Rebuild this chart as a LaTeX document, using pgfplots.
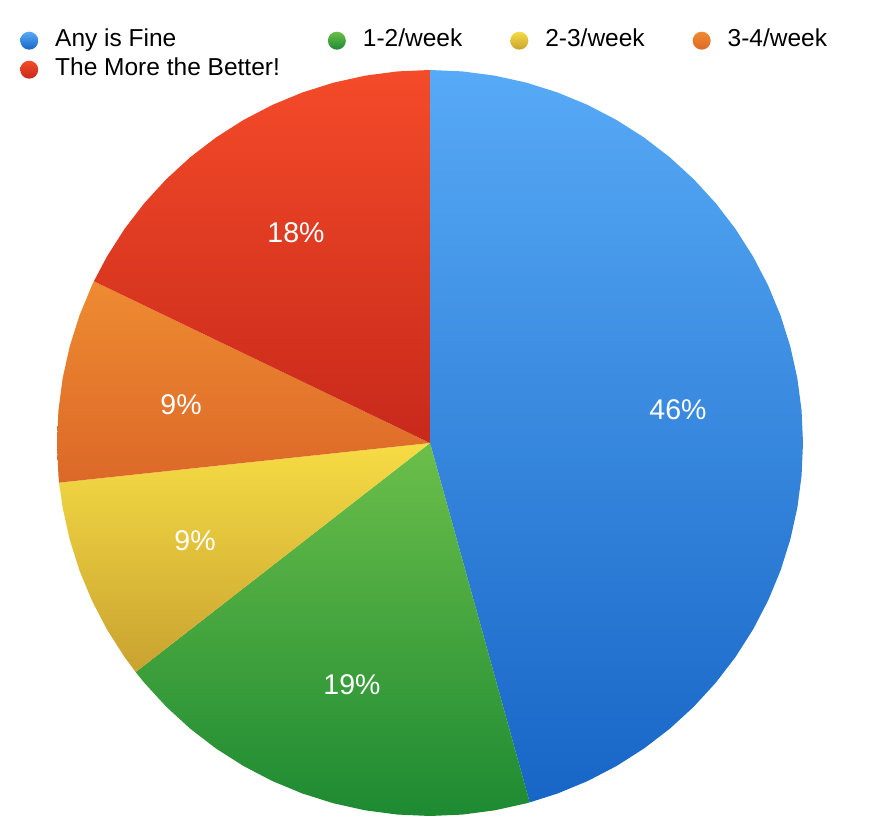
\documentclass[border=0pt]{standalone}
\usepackage{pgfplots}
\pgfplotsset{compat=1.18}
\usepackage{fontspec}
\setmainfont{Liberation Sans}
\definecolor{bT}{HTML}{57AAF6}
\definecolor{bB}{HTML}{1765C6}
\definecolor{gT}{HTML}{6CBF4A}
\definecolor{gB}{HTML}{1D8A32}
\definecolor{yT}{HTML}{F6DC44}
\definecolor{yB}{HTML}{C9A230}
\definecolor{oT}{HTML}{EE8B32}
\definecolor{oB}{HTML}{DC6828}
\definecolor{rT}{HTML}{F44B29}
\definecolor{rB}{HTML}{C8291B}
\tikzset{wt/.style={font=\fontsize{28.5}{30}\selectfont, inner sep=0pt, text=white}}
\begin{document}
\begin{tikzpicture}
\begin{axis}[
  x=1pt, y=1pt,
  xmin=-430, xmax=458, ymin=-375, ymax=443,
  hide axis, clip=false,
  legend columns=4,
  legend cell align=left,
  legend style={draw=none, fill=none, inner sep=0pt,
    at={(axis cs:-410,417)}, anchor=north west,
    font=\fontsize{24.5}{28}\selectfont,
    nodes={inner xsep=0pt, inner ysep=3pt, text height=17pt, text depth=6pt},
    /tikz/every odd column/.append style={column sep=17pt},
    /tikz/every even column/.append style={column sep=48pt}},
]
\path[draw=none] (rel axis cs:0,0) rectangle (rel axis cs:1,1);
% Any is Fine
\addplot[data cs=polar, draw=none, top color=bT, bottom color=bB, forget plot] coordinates {
(0,0) (90,373) (85,373) (80,373) (75,373) (70,373) (65,373) (60,373) (55,373) (50,373)
(45,373) (40,373) (35,373) (30,373) (25,373) (20,373) (15,373) (10,373) (5,373) (0,373)
(-5,373) (-10,373) (-15,373) (-20,373) (-25,373) (-30,373) (-35,373) (-40,373) (-45,373)
(-50,373) (-55,373) (-60,373) (-65,373) (-70,373) (-74.5,373)};
% 1-2/week
\addplot[data cs=polar, draw=none, top color=gT, bottom color=gB, forget plot] coordinates {
(0,0) (-74.5,373) (-75,373) (-80,373) (-85,373) (-90,373) (-95,373) (-100,373) (-105,373)
(-110,373) (-115,373) (-120,373) (-125,373) (-130,373) (-135,373) (-140,373) (-142.1,373)};
% 2-3/week
\addplot[data cs=polar, draw=none, top color=yT, bottom color=yB, forget plot] coordinates {
(0,0) (-142.1,373) (-145,373) (-150,373) (-155,373) (-160,373) (-165,373) (-170,373) (-173.9,373)};
% 3-4/week
\addplot[data cs=polar, draw=none, top color=oT, bottom color=oB, forget plot] coordinates {
(0,0) (-173.9,373) (-175,373) (-180,373) (-185,373) (-190,373) (-195,373) (-200,373) (-205,373) (-205.7,373)};
% The More the Better!
\addplot[data cs=polar, draw=none, top color=rT, bottom color=rB, forget plot] coordinates {
(0,0) (-205.7,373) (-210,373) (-215,373) (-220,373) (-225,373) (-230,373) (-235,373) (-240,373)
(-245,373) (-250,373) (-255,373) (-260,373) (-265,373) (-270,373)};

\addlegendimage{legend image code/.code={\shade[draw=none, top color=bT, bottom color=bB] (9pt,0pt) circle (9pt);}}
\addlegendentry{Any is Fine}
\addlegendimage{legend image code/.code={\shade[draw=none, top color=gT, bottom color=gB] (9pt,0pt) circle (9pt);}}
\addlegendentry{1-2/week}
\addlegendimage{legend image code/.code={\shade[draw=none, top color=yT, bottom color=yB] (9pt,0pt) circle (9pt);}}
\addlegendentry{2-3/week}
\addlegendimage{legend image code/.code={\shade[draw=none, top color=oT, bottom color=oB] (9pt,0pt) circle (9pt);}}
\addlegendentry{3-4/week}
\addlegendimage{legend image code/.code={\shade[draw=none, top color=rT, bottom color=rB] (9pt,0pt) circle (9pt);}}
\addlegendentry{The More the Better!}

\node[wt] at (axis cs:248,33) {46\%};
\node[wt] at (axis cs:-78,-242) {19\%};
\node[wt] at (axis cs:-235,-98) {9\%};
\node[wt] at (axis cs:-249,38) {9\%};
\node[wt] at (axis cs:-134,210) {18\%};
\end{axis}
\end{tikzpicture}
\end{document}
